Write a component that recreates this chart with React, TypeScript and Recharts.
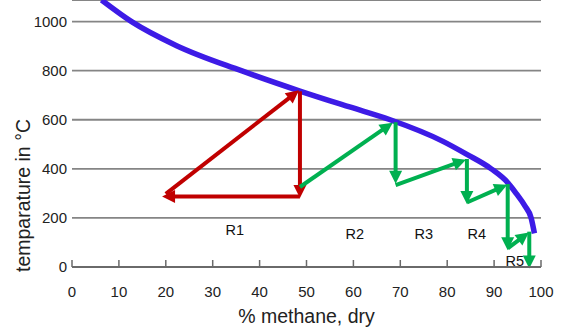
import React from 'react';
import { ComposedChart, Line, XAxis, YAxis, CartesianGrid, ReferenceLine, ReferenceDot } from 'recharts';

const xTicks = [0, 10, 20, 30, 40, 50, 60, 70, 80, 90, 100];
const yTicks = [0, 200, 400, 600, 800, 1000];

// equilibrium curve: % methane vs temperature
const curveMethane = [6.3, 12.7, 22.3, 36.1, 48.6, 59.2, 67.7, 79.1, 84.1, 89.4, 92.9, 94.7, 96.6, 97.9, 98.6];
const curveTemp = [1088, 1000, 902, 800, 717, 652, 601, 512, 460, 400, 344, 300, 248, 200, 137];

// arrows [x1, t1, x2, t2]
const redArrows = [
  [20.0, 298, 48.4, 720],
  [48.6, 716, 48.6, 281],
  [48.6, 287, 19.2, 287],
];
const greenArrows = [
  [48.6, 326, 68.4, 588],
  [69.0, 590, 69.0, 339],
  [69.0, 334, 84.0, 437],
  [84.2, 440, 84.2, 257],
  [84.2, 263, 92.8, 335],
  [92.9, 338, 92.9, 68],
  [92.9, 76, 97.4, 141],
  [97.5, 144, 97.5, -6],
];

const reactorLabels = ['R1', 'R2', 'R3', 'R4', 'R5'];
const labelMethane = [34.7, 60.3, 75.0, 86.3, 94.4];
const labelTemp = [151, 134, 134, 134, 25];

const FONT = 'Liberation Sans, Arial, Helvetica, sans-serif';
const RED = '#c00000';
const GREEN = '#00b050';
const BLUE = '#3d1be6';

const curveData = curveMethane.map((x, i) => ({ x, t: curveTemp[i] }));

const makeArrow = (color: string) => (p: any) => {
  const { x1, y1, x2, y2 } = p;
  const dx = x2 - x1;
  const dy = y2 - y1;
  const len = Math.hypot(dx, dy) || 1;
  const ux = dx / len;
  const uy = dy / len;
  const hl = 13;
  const hw = 6.5;
  const bx = x2 - ux * hl;
  const by = y2 - uy * hl;
  const px = -uy;
  const py = ux;
  return (
    <g>
      <line x1={x1} y1={y1} x2={bx + ux * 2} y2={by + uy * 2} stroke={color} strokeWidth={4} />
      <polygon
        points={`${x2},${y2} ${bx + px * hw},${by + py * hw} ${bx - px * hw},${by - py * hw}`}
        fill={color}
      />
    </g>
  );
};

const XTick = (props: any) => {
  const { x, y, payload } = props;
  return (
    <g>
      <line x1={x} y1={y} x2={x} y2={y - 7} stroke="#6a6a6a" strokeWidth={1.5} />
      <text x={x} y={y + 29.5} textAnchor="middle" fontSize={15} fill="#222" fontFamily={FONT}>
        {payload.value}
      </text>
    </g>
  );
};

const YTick = (props: any) => {
  const { x, y, payload } = props;
  return (
    <text x={x} y={y + 5.4} textAnchor="end" fontSize={15} fill="#222" fontFamily={FONT}>
      {payload.value}
    </text>
  );
};

const labelShape = (text: string) => (p: any) => (
  <text x={p.cx} y={p.cy + 5.2} textAnchor="middle" fontSize={14.5} fill="#111" fontFamily={FONT}>
    {text}
  </text>
);

export default function App() {
  return (
    <div style={{ position: 'absolute', left: 0, top: 0, background: '#fff' }}>
      <ComposedChart
        width={563}
        height={329}
        data={curveData}
        margin={{ top: 0, right: 22, bottom: 0, left: 0 }}
      >
        <CartesianGrid horizontal vertical={false} stroke="#858585" strokeWidth={1.8} />
        <XAxis
          type="number"
          dataKey="x"
          domain={[0, 100]}
          ticks={xTicks}
          interval={0}
          height={62}
          tickSize={0}
          tickMargin={0}
          tickLine={false}
          axisLine={{ stroke: '#6a6a6a', strokeWidth: 1.8 }}
          tick={<XTick />}
          label={{
            value: '% methane, dry',
            content: (p: any) => {
              const vb = p.viewBox;
              return (
                <text x={vb.x + vb.width / 2} y={vb.y + 56} textAnchor="middle" fontSize={19.5} fill="#222" fontFamily={FONT}>
                  % methane, dry
                </text>
              );
            },
          }}
        />
        <YAxis
          type="number"
          domain={[0, 1088]}
          ticks={yTicks}
          interval={0}
          width={72}
          tickSize={0}
          tickMargin={5}
          tickLine={false}
          axisLine={false}
          allowDataOverflow
          tick={<YTick />}
          label={{
            value: 'temparature in °C',
            content: () => (
              <text
                x={29.5}
                y={195.5}
                transform="rotate(-90, 29.5, 195.5)"
                textAnchor="middle"
                fontSize={19.5}
                fill="#222"
                fontFamily={FONT}
              >
                temparature in °C
              </text>
            ),
          }}
        />
        <Line
          type="monotone"
          dataKey="t"
          stroke={BLUE}
          strokeWidth={5.5}
          dot={false}
          activeDot={false}
          isAnimationActive={false}
        />
        {redArrows.map((a, i) => (
          <ReferenceLine
            key={`r${i}`}
            segment={[{ x: a[0], y: a[1] }, { x: a[2], y: a[3] }]}
            ifOverflow="visible"
            shape={makeArrow(RED)}
          />
        ))}
        {greenArrows.map((a, i) => (
          <ReferenceLine
            key={`g${i}`}
            segment={[{ x: a[0], y: a[1] }, { x: a[2], y: a[3] }]}
            ifOverflow="visible"
            shape={makeArrow(GREEN)}
          />
        ))}
        {reactorLabels.map((l, i) => (
          <ReferenceDot
            key={l}
            x={labelMethane[i]}
            y={labelTemp[i]}
            r={0}
            ifOverflow="visible"
            shape={labelShape(l)}
          />
        ))}
      </ComposedChart>
    </div>
  );
}
